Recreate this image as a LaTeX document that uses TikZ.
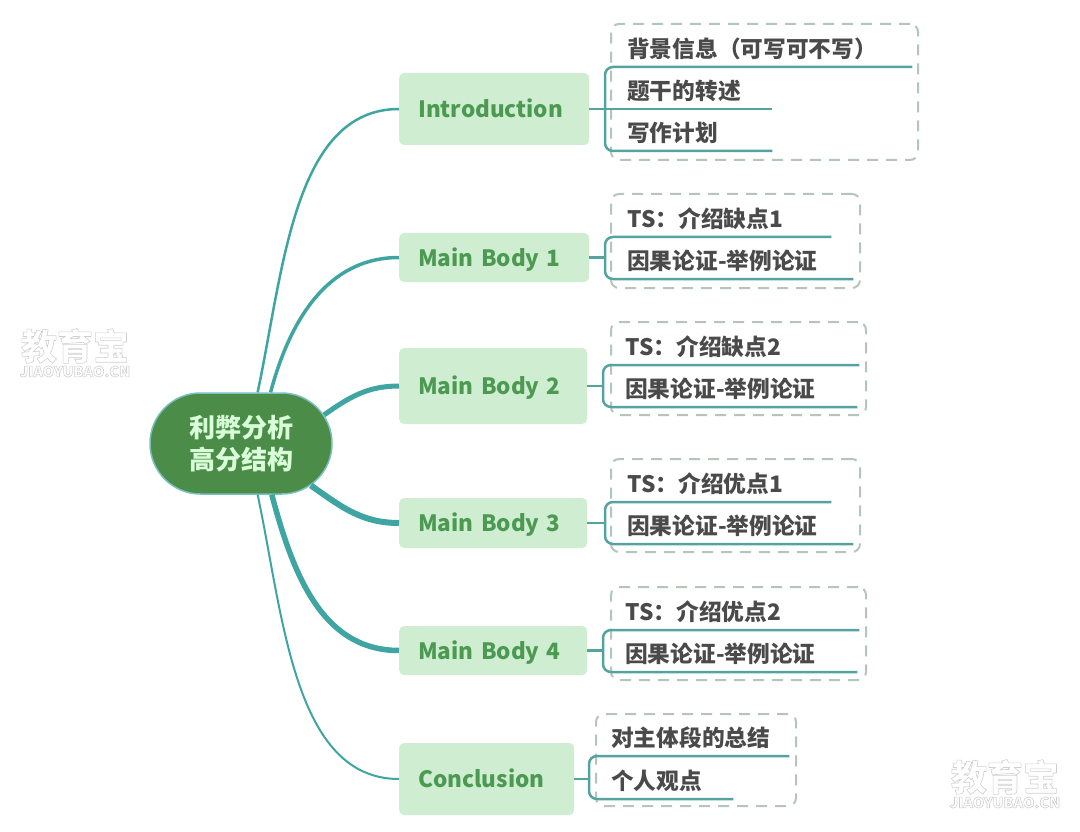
\documentclass[tikz,border=0pt]{standalone}
\usepackage{fontspec}
\usetikzlibrary{shapes.misc}
\setmainfont{Noto Sans CJK SC}
\definecolor{tealc}{HTML}{3FA5A2}
\definecolor{twigc}{HTML}{55A39F}
\definecolor{rootc}{HTML}{4A8C48}
\definecolor{brc}{HTML}{CFEDD1}
\definecolor{brt}{HTML}{4C9A52}
\definecolor{leaft}{HTML}{4A4A4A}
\definecolor{dashc}{HTML}{B4C6BC}
\definecolor{wmc}{HTML}{CFCFCF}
\newcommand{\wmtext}[1]{\special{pdf:code 1 Tr 0.6 w}#1\special{pdf:code 0 Tr 1 w}}
\begin{document}
\begin{tikzpicture}[x=1pt, y=-1pt]
	\tikzset{root/.style={draw=tealc!70, line width=1.5pt, fill=rootc, rounded rectangle, minimum width=182pt, minimum height=101pt, inner sep=0pt, text=white!85!green, align=center, font=\fontsize{26}{32}\selectfont\bfseries},
	br/.style={fill=brc, rounded corners=5pt, anchor=west, inner xsep=19pt, inner ysep=0pt, text=brt, text height=20pt, text depth=3pt, font=\fontsize{22.5}{28}\selectfont\bfseries},
	leaf/.style={anchor=south west, minimum height=35.5pt, inner xsep=22pt, inner ysep=0pt, text=leaft, font=\fontsize{22.7}{26}\selectfont\bfseries},
	dbox/.style={draw=dashc, line width=2pt, rounded corners=8pt, dash pattern=on 11pt off 8pt, anchor=north west, inner sep=0pt, outer sep=0pt},
	f/.style={draw=tealc},
	g/.style={draw=twigc, line width=2.5pt},
	bk/.style={g, rounded corners=8pt},
	wm/.style={text=wmc, inner sep=0pt}};
	\useasboundingbox (0,0) rectangle (1080,832);

	\node[root] (r) at (241,443.5) {利弊分析\\高分结构};

	\node[br, minimum height=72pt, text width=152pt] (intro) at (399,109) {Introduction};
	\node[br, minimum height=49pt, text width=152pt] (m1) at (399,257.5) {Main Body 1};
	\node[br, minimum height=76pt, text width=150pt] (m2) at (399,386) {Main Body 2};
	\node[br, minimum height=50pt, text width=150pt] (m3) at (399,523) {Main Body 3};
	\node[br, minimum height=49pt, text width=150pt] (m4) at (399,650.5) {Main Body 4};
	\node[br, minimum height=72pt, text width=137pt] (c) at (399,779) {Conclusion};

	\draw[f, line width=2.5pt] (r.72) to[out=78, in=180, in looseness=.85] (intro.west);
	\draw[f, line width=3.5pt] (r.60) to[out=75, in=180] (m1.west);
	\draw[f, line width=5pt] (r.19) to[out=35, in=180] (m2.west);
	\draw[f, line width=6pt] (r.-31) to[out=-35, in=180] (m3.west);
	\draw[f, line width=5.5pt] (r.-59) to[out=-75, in=180] (m4.west);
	\draw[f, line width=2pt] (r.-72) to[out=-78, in=180, in looseness=.85] (c.west);

	% Introduction
	\node[dbox, minimum width=307pt, minimum height=136pt] (bi) at (611,24) {};
	\node[leaf, text width=263pt] (i1) at (605,67) {背景信息（可写可不写）};
	\node[leaf, text width=123pt] (i2) at (605,109) {题干的转述};
	\node[leaf, text width=123pt] (i3) at (605,151) {写作计划};
	\draw[bk] (i1.south east) -- (i1.south west) -- (i3.south west) -- (i3.south east);
	\draw[g] (intro.east) -- (i2.south east);

	% Main Body 1
	\node[dbox, minimum width=249pt, minimum height=94pt] (b1) at (611,194) {};
	\node[leaf, text width=182pt] (a1) at (605,237) {TS：介绍缺点1};
	\node[leaf, text width=204pt] (a2) at (605,279) {因果论证-举例论证};
	\draw[bk] (a1.south east) -- (a1.south west) -- (a2.south west) -- (a2.south east);
	\draw[g] (m1.east) -- (m1.east -| a1.south west);

	% Main Body 2
	\node[dbox, minimum width=255pt, minimum height=93pt] (b2) at (611,322) {};
	\node[leaf, text width=212pt] (d1) at (603,365) {TS：介绍缺点2};
	\node[leaf, text width=210pt] (d2) at (603,407) {因果论证-举例论证};
	\draw[bk] (d1.south east) -- (d1.south west) -- (d2.south west) -- (d2.south east);
	\draw[g] (m2.east) -- (m2.east -| d1.south west);

	% Main Body 3
	\node[dbox, minimum width=249pt, minimum height=93pt] (b3) at (611,459) {};
	\node[leaf, text width=182pt] (e1) at (605,502) {TS：介绍优点1};
	\node[leaf, text width=204pt] (e2) at (605,544) {因果论证-举例论证};
	\draw[bk] (e1.south east) -- (e1.south west) -- (e2.south west) -- (e2.south east);
	\draw[g] (m3.east) -- (m3.east -| e1.south west);

	% Main Body 4
	\node[dbox, minimum width=255pt, minimum height=93pt] (b4) at (611,587) {};
	\node[leaf, text width=212pt] (h1) at (603,630) {TS：介绍优点2};
	\node[leaf, text width=210pt] (h2) at (603,672) {因果论证-举例论证};
	\draw[bk] (h1.south east) -- (h1.south west) -- (h2.south west) -- (h2.south east);
	\draw[g] (m4.east) -- (m4.east -| h1.south west);

	% Conclusion
	\node[dbox, minimum width=200pt, minimum height=92pt] (bc) at (596,714) {};
	\node[leaf, text width=156pt] (k1) at (589,756) {对主体段的总结};
	\node[leaf, text width=100pt] (k2) at (589,799) {个人观点};
	\draw[bk] (k1.south east) -- (k1.south west) -- (k2.south west) -- (k2.south east);
	\draw[g] (c.east) -- (c.east -| k1.south west);

	% watermarks
	\node[wm, font=\fontsize{36}{36}\selectfont\bfseries] (w1) at (75,346) {\wmtext{教育宝}};
	\node[wm, font=\fontsize{14.5}{14}\selectfont\bfseries, below=2pt] (w2) at (w1.south) {\wmtext{JIAOYUBAO.CN}};
	\node[wm, font=\fontsize{36}{36}\selectfont\bfseries] (w3) at (1005,777) {\wmtext{教育宝}};
	\node[wm, font=\fontsize{14.5}{14}\selectfont\bfseries, below=2pt] (w4) at (w3.south) {\wmtext{JIAOYUBAO.CN}};
\end{tikzpicture}
\end{document}
